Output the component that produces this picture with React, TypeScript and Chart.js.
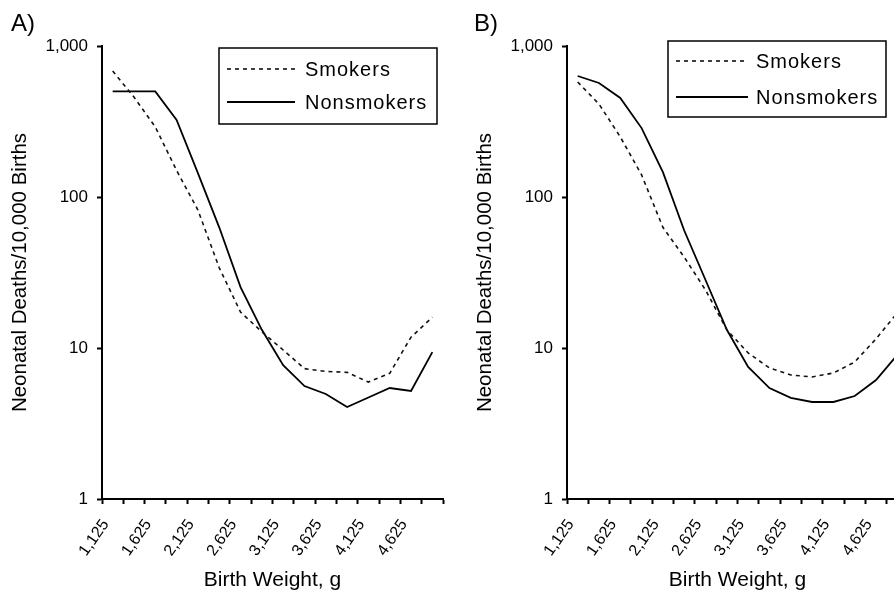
import React, { useEffect, useRef } from "react";
import { Chart, registerables } from "chart.js";

Chart.register(...registerables);

const categories = [1125, 1375, 1625, 1875, 2125, 2375, 2625, 2875, 3125, 3375, 3625, 3875, 4125, 4375, 4625, 4875];
const yTickValues = [1, 10, 100, 1000];

const aSmokers = [683, 459, 291, 150, 82, 34, 17.3, 12.8, 9.7, 7.3, 7.0, 6.9, 5.95, 6.8, 11.8, 16.0];
const aNonsmokers = [500, 500, 500, 324, 144, 63, 25.3, 13.2, 7.7, 5.6, 4.96, 4.07, 4.7, 5.43, 5.19, 9.4];
const bSmokers = [578, 413, 250, 140, 63, 40, 24.2, 13.2, 9.27, 7.37, 6.63, 6.43, 6.83, 8.08, 11.5, 17.1];
const bNonsmokers = [633, 569, 453, 286, 146, 60, 28.2, 13.2, 7.5, 5.43, 4.67, 4.39, 4.39, 4.81, 6.14, 9.0];

const seriesNames = ["Smokers", "Nonsmokers"];
const panelLabels = ["A)", "B)"];
const xTitle = "Birth Weight, g";
const yTitle = "Neonatal Deaths/10,000 Births";

const FONT = "'Liberation Sans', Arial, sans-serif";
const fmt = (v: number) => v.toLocaleString("en-US");

const overlayPlugin = {
  id: "overlay",
  afterDraw(chart: any, _args: any, opts: any) {
    const ctx = chart.ctx;
    ctx.save();
    // panel label
    ctx.fillStyle = "#000";
    ctx.font = `24px ${FONT}`;
    ctx.textBaseline = "middle";
    ctx.textAlign = "left";
    ctx.fillText(opts.panel, opts.panelX, opts.panelY);
    // legend box
    ctx.strokeStyle = "#000";
    ctx.lineWidth = 1.5;
    ctx.setLineDash([]);
    ctx.strokeRect(opts.x, opts.y, opts.w, opts.h);
    chart.data.datasets.forEach((ds: any, i: number) => {
      const y = opts.y + opts.rows[i];
      ctx.beginPath();
      ctx.setLineDash(ds.borderDash || []);
      ctx.lineWidth = ds.borderWidth;
      ctx.strokeStyle = ds.borderColor;
      ctx.moveTo(opts.x + opts.lineX0, y);
      ctx.lineTo(opts.x + opts.lineX1, y);
      ctx.stroke();
      ctx.setLineDash([]);
      ctx.fillStyle = "#000";
      ctx.font = `20px ${FONT}`;
      (ctx as any).letterSpacing = "1px";
      ctx.textBaseline = "middle";
      ctx.textAlign = "left";
      ctx.fillText(ds.label, opts.x + opts.textX, y + 1);
      (ctx as any).letterSpacing = "0px";
    });
    ctx.restore();
  },
};

function makeConfig(smokers: number[], nonsmokers: number[], overlay: any): any {
  return {
    type: "line",
    data: {
      labels: categories.map(String),
      datasets: [
        {
          label: seriesNames[0],
          data: smokers,
          borderColor: "#111",
          borderWidth: 1.6,
          borderDash: [4, 4],
          pointRadius: 0,
          tension: 0,
          fill: false,
        },
        {
          label: seriesNames[1],
          data: nonsmokers,
          borderColor: "#000",
          borderWidth: 1.8,
          pointRadius: 0,
          tension: 0,
          fill: false,
        },
      ],
    },
    options: {
      responsive: false,
      animation: false,
      events: [],
      layout: { padding: { top: 46, right: 4, left: 0, bottom: 0 } },
      plugins: {
        legend: { display: false },
        tooltip: { enabled: false },
        title: { display: false },
        overlay,
      },
      scales: {
        x: {
          type: "category",
          offset: true,
          afterFit: (s: any) => {
            s.height = 92;
            s.paddingLeft = 0;
            s.paddingRight = 0;
          },
          border: { display: true, color: "#000", width: 2 },
          grid: {
            offset: true,
            drawOnChartArea: false,
            drawTicks: true,
            tickLength: 5,
            tickWidth: 2,
            tickColor: "#000",
          },
          ticks: {
            autoSkip: false,
            maxRotation: 55,
            minRotation: 55,
            padding: 12,
            labelOffset: -7,
            color: "#000",
            font: { family: FONT, size: 16 },
            callback: (_v: any, i: number) => (i % 2 === 0 ? fmt(categories[i]) : ""),
          },
          title: {
            display: true,
            text: xTitle,
            color: "#000",
            font: { family: FONT, size: 21, lineHeight: 1 },
            padding: { top: 0, bottom: 0 },
          },
        },
        y: {
          type: "logarithmic",
          min: 1,
          max: 1000,
          afterFit: (s: any) => {
            s.width = 102;
            s.paddingTop = 0;
            s.paddingBottom = 0;
          },
          afterBuildTicks: (s: any) => {
            s.ticks = yTickValues.map((v) => ({ value: v }));
          },
          border: { display: true, color: "#000", width: 2 },
          grid: {
            drawOnChartArea: false,
            drawTicks: true,
            tickLength: 5,
            tickWidth: 2,
            tickColor: "#000",
          },
          ticks: {
            padding: 9,
            color: "#000",
            font: { family: FONT, size: 17 },
            callback: (v: any) => fmt(Number(v)),
          },
          title: {
            display: true,
            text: yTitle,
            color: "#000",
            font: { family: FONT, size: 20.5, lineHeight: 1.2 },
            padding: { top: 8, bottom: 0 },
          },
        },
      },
    },
    plugins: [overlayPlugin],
  };
}

export default function App() {
  const refA = useRef<HTMLCanvasElement>(null);
  const refB = useRef<HTMLCanvasElement>(null);

  useEffect(() => {
    const a = new Chart(
      refA.current!,
      makeConfig(aSmokers, aNonsmokers, {
        panel: panelLabels[0],
        panelX: 11,
        panelY: 24,
        x: 219,
        y: 48,
        w: 218,
        h: 76,
        rows: [21, 54],
        lineX0: 8,
        lineX1: 76,
        textX: 86,
      })
    );
    const b = new Chart(
      refB.current!,
      makeConfig(bSmokers, bNonsmokers, {
        panel: panelLabels[1],
        panelX: 9,
        panelY: 24,
        x: 203,
        y: 41,
        w: 218,
        h: 76,
        rows: [20, 56],
        lineX0: 8,
        lineX1: 80,
        textX: 88,
      })
    );
    return () => {
      a.destroy();
      b.destroy();
    };
  }, []);

  return (
    <div
      style={{
        position: "absolute",
        left: 0,
        top: 0,
        width: 894,
        height: 591,
        overflow: "hidden",
        background: "#fff",
      }}
    >
      <canvas
        ref={refA}
        width={447}
        height={591}
        style={{ position: "absolute", left: 0, top: 0, width: 447, height: 591 }}
      />
      <canvas
        ref={refB}
        width={447}
        height={591}
        style={{ position: "absolute", left: 465, top: 0, width: 447, height: 591 }}
      />
    </div>
  );
}
